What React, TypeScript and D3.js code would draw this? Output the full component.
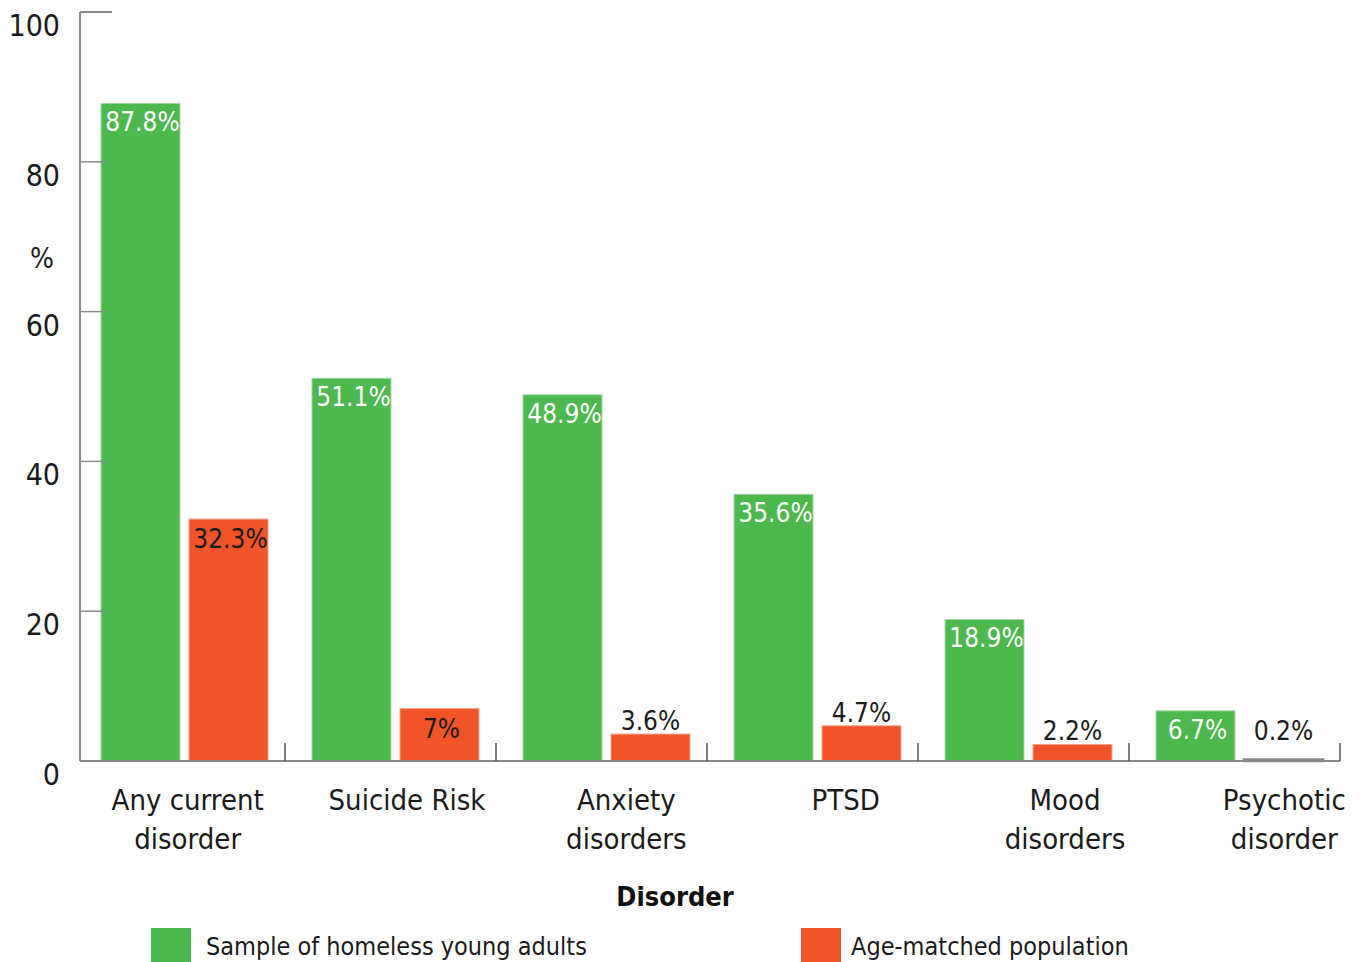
import React from 'react';
import * as d3 from 'd3';

const categories = [
  ['Any current', 'disorder'],
  ['Suicide Risk'],
  ['Anxiety', 'disorders'],
  ['PTSD'],
  ['Mood', 'disorders'],
  ['Psychotic', 'disorder'],
];
const homeless = [87.8, 51.1, 48.9, 35.6, 18.9, 6.7];
const population = [32.3, 7, 3.6, 4.7, 2.2, 0.2];
const popLabels = ['32.3%', '7%', '3.6%', '4.7%', '2.2%', '0.2%'];
const yTicks = [0, 20, 40, 60, 80, 100];
const seriesNames = ['Sample of homeless young adults', 'Age-matched population'];

const GREEN = '#4db84e';
const ORANGE = '#f05428';
const AXIS = '#8a8a8a';
const FONT = "'DejaVu Sans Condensed', 'Liberation Sans Narrow', 'Open Sans', sans-serif";

const App = () => {
  const width = 1360;
  const height = 962;
  const left = 80;
  const right = 1340;
  const top = 12;
  const bottom = 761;

  const idx = d3.range(categories.length);
  // groups are slightly wider than the gap from the axis to the first tick
  const x = d3.scaleBand<number>().domain(idx).range([74, right]);
  const labelX = d3.scaleBand<number>().domain(idx).range([78, 1394]);
  const y = d3.scaleLinear().domain([0, 100]).range([bottom, top]);

  const barW = 79;
  const pad = 27;
  const gap = 9;

  return (
    <svg width={width} height={height} style={{ position: 'absolute', left: 0, top: 0, fontFamily: FONT }}>
      {/* bars */}
      {idx.map(i => {
        const gx = (x(i) as number) + pad;
        const ox = gx + barW + gap;
        const gy = y(homeless[i]);
        const oy = y(population[i]);
        const popBig = population[i] > 5;
        const tiny = population[i] < 1;
        return (
          <g key={i}>
            <rect x={gx} y={gy} width={barW} height={bottom - gy} fill={GREEN} stroke="#a6d8a6" strokeWidth={1} />
            <rect x={ox} y={oy} width={barW} height={bottom - oy}
              fill={tiny ? AXIS : ORANGE} stroke={tiny ? AXIS : '#f5a58c'} strokeWidth={tiny ? 2.5 : 1} />
            <text x={gx + barW / 2 + 2} y={gy + 28} textAnchor="middle" fill="#fff" fontSize={26}>
              {homeless[i]}%
            </text>
            <text x={ox + barW / 2 + (popBig ? 2 : 0)} y={popBig ? oy + 29 : Math.min(oy - 4, 740)}
              textAnchor="middle" fill="#1a1a1a" fontSize={26}>
              {popLabels[i]}
            </text>
          </g>
        );
      })}

      {/* y axis */}
      <line x1={left} x2={left} y1={top} y2={bottom} stroke={AXIS} strokeWidth={2} />
      <line x1={left} x2={left + 32} y1={top} y2={top} stroke={AXIS} strokeWidth={2} />
      {yTicks.filter(t => t > 0 && t < 100).map(t => (
        <line key={t} x1={left} x2={left + 26} y1={y(t)} y2={y(t)} stroke={AXIS} strokeWidth={1.5} />
      ))}
      {yTicks.map(t => (
        <text key={t} x={60} y={y(t) + 24} textAnchor="end" fontSize={30} fill="#1a1a1a">{t}</text>
      ))}
      <text x={42} y={268} textAnchor="middle" fontSize={28} fill="#1a1a1a">%</text>

      {/* x axis */}
      <line x1={left} x2={right} y1={bottom} y2={bottom} stroke={AXIS} strokeWidth={2} />
      {idx.map(i => {
        const bx = (x(i) as number) + x.bandwidth();
        return <line key={i} x1={bx} x2={bx} y1={bottom} y2={bottom - 18} stroke="#555" strokeWidth={1.5} />;
      })}
      {idx.map(i => (
        <text key={i} x={(labelX(i) as number) + labelX.bandwidth() / 2} y={810}
          textAnchor="middle" fontSize={29} fill="#1a1a1a">
          {categories[i].map((line, j) => (
            <tspan key={j} x={(labelX(i) as number) + labelX.bandwidth() / 2} dy={j === 0 ? 0 : 39}>{line}</tspan>
          ))}
        </text>
      ))}
      <text x={675} y={906} textAnchor="middle" fontSize={27} fontWeight="bold" fill="#111">Disorder</text>

      {/* legend */}
      <rect x={151} y={928} width={40} height={40} fill={GREEN} />
      <text x={206} y={955} fontSize={25} fill="#1a1a1a">{seriesNames[0]}</text>
      <rect x={801} y={928} width={40} height={40} fill={ORANGE} />
      <text x={851} y={955} fontSize={25} fill="#1a1a1a">{seriesNames[1]}</text>
    </svg>
  );
};

export default App;
